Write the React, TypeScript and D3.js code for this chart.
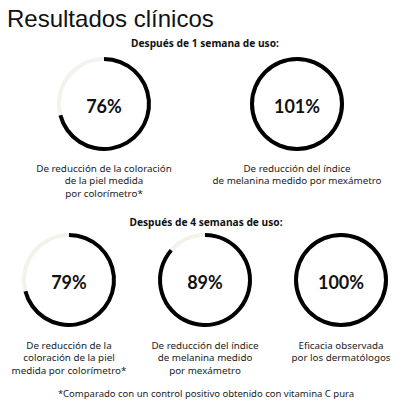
import React from "react";
import * as d3 from "d3";

const title = "Resultados clínicos";
const week1Title = "Después de 1 semana de uso:";
const week4Title = "Después de 4 semanas de uso:";
const footnote = "*Comparado con un control positivo obtenido con vitamina C pura";

const week1Values = [76, 101];
const week1ArcFill = [0.71, 1];
const week1Labels = [
  ["De reducción de la coloración", "de la piel medida", "por colorímetro*"],
  ["De reducción del índice", "de melanina medido por mexámetro"],
];

const week4Values = [79, 89, 100];
const week4ArcFill = [0.71, 0.865, 1];
const week4Labels = [
  ["De reducción de la", "coloración de la piel", "medida por colorímetro*"],
  ["De reducción del índice", "de melanina medido", "por mexámetro"],
  ["Eficacia observada", "por los dermatólogos"],
];

const W = 416;
const H = 408;
const OUTER = 47;
const INNER = 43;
const LINE = 12.4;

const arcGen = d3.arc<any>().innerRadius(INNER).outerRadius(OUTER);
const angle = d3.scaleLinear().domain([0, 1]).range([0, 2 * Math.PI]).clamp(true);

function Ring({ cx, cy, value, fill, label, labelY }: any) {
  const end = angle(fill);
  return (
    <g>
      <g transform={`translate(${cx},${cy})`}>
        {fill < 1 && (
          <path
            d={arcGen({ startAngle: end, endAngle: 2 * Math.PI }) as string}
            fill="#f3f2ec"
          />
        )}
        <path d={arcGen({ startAngle: 0, endAngle: end }) as string} fill="#000" />
        <text
          x={0}
          y={9}
          textAnchor="middle"
          fontFamily="Lato, 'Open Sans', sans-serif"
          fontWeight={700}
          fontSize={18}
          fill="#111"
        >
          {value}%
        </text>
      </g>
      {label.map((l: string, i: number) => (
        <text
          key={i}
          x={cx}
          y={labelY + i * LINE}
          textAnchor="middle"
          fontFamily="'Noto Sans', sans-serif"
          fontSize={9.8}
          fill="#222"
        >
          {l}
        </text>
      ))}
    </g>
  );
}

export default function App() {
  const topX = d3.scalePoint<number>().domain([0, 1]).range([104, 297]);
  const botX = d3.scalePoint<number>().domain([0, 1, 2]).range([69, 341]);
  return (
    <svg
      width={W}
      height={H}
      style={{ position: "absolute", left: 0, top: 0, background: "#fff" }}
    >
      <rect width={W} height={H} fill="#fff" />
      <text
        x={7}
        y={27}
        fontFamily="'Liberation Sans', Arial, sans-serif"
        fontSize={24}
        fill="#111"
      >
        {title}
      </text>
      <text
        x={205}
        y={47}
        textAnchor="middle"
        fontFamily="'Noto Sans', sans-serif"
        fontWeight={700}
        fontSize={10.2}
        fill="#111"
      >
        {week1Title}
      </text>
      {week1Values.map((v, i) => (
        <Ring
          key={i}
          cx={topX(i)}
          cy={104}
          value={v}
          fill={week1ArcFill[i]}
          label={week1Labels[i]}
          labelY={172}
        />
      ))}
      <text
        x={206}
        y={226}
        textAnchor="middle"
        fontFamily="'Noto Sans', sans-serif"
        fontWeight={700}
        fontSize={10.2}
        fill="#111"
      >
        {week4Title}
      </text>
      {week4Values.map((v, i) => (
        <Ring
          key={i}
          cx={botX(i)}
          cy={280}
          value={v}
          fill={week4ArcFill[i]}
          label={week4Labels[i]}
          labelY={349}
        />
      ))}
      <text
        x={206}
        y={397}
        textAnchor="middle"
        fontFamily="'Noto Sans', sans-serif"
        fontSize={9.5}
        fill="#222"
      >
        {footnote}
      </text>
    </svg>
  );
}
